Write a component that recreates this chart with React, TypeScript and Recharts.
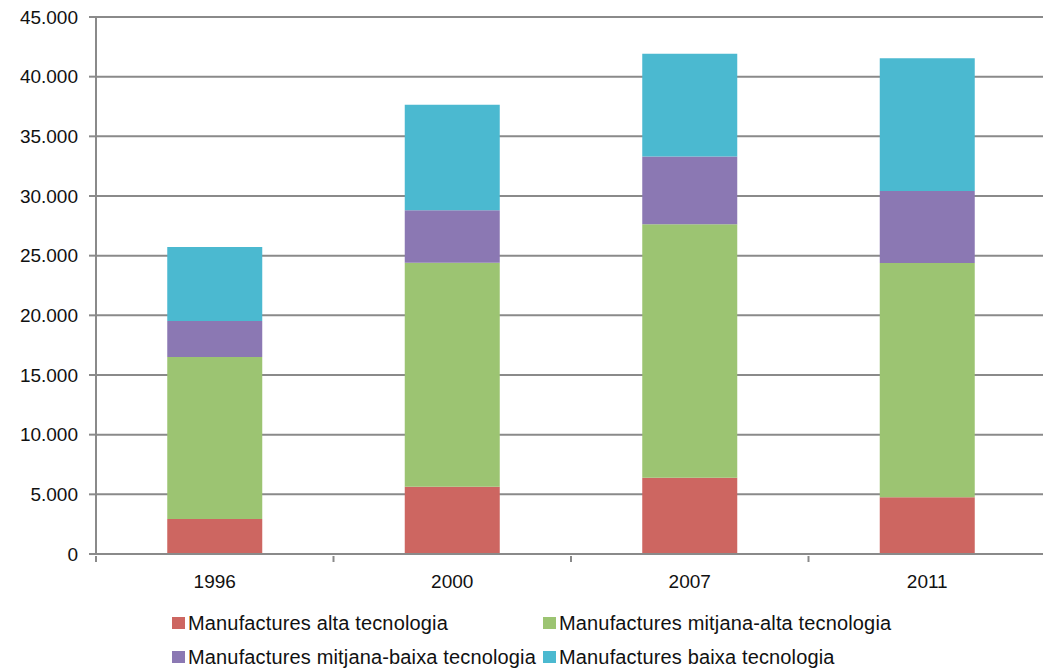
import React from "react";
import { BarChart, Bar, XAxis, YAxis, CartesianGrid, Legend } from "recharts";

const years = ["1996", "2000", "2007", "2011"];
const alta = [2930, 5640, 6390, 4750];
const mitjanaAlta = [13580, 18770, 21240, 19640];
const mitjanaBaixa = [3020, 4390, 5670, 6030];
const baixa = [6200, 8850, 8610, 11120];
const yTicks = [0, 5000, 10000, 15000, 20000, 25000, 30000, 35000, 40000, 45000];

const seriesNames = [
  "Manufactures alta tecnologia",
  "Manufactures mitjana-alta tecnologia",
  "Manufactures mitjana-baixa tecnologia",
  "Manufactures baixa tecnologia",
];
const colors = ["#CD6661", "#9CC472", "#8B78B3", "#4BB9D0"];

const data = years.map((y, i) => ({
  year: y,
  alta: alta[i],
  mitjanaAlta: mitjanaAlta[i],
  mitjanaBaixa: mitjanaBaixa[i],
  baixa: baixa[i],
}));

const FONT = "'Liberation Sans', Arial, Helvetica, sans-serif";
const GRID = "#8a8a8a";
const TEXT = "#111";
const BAND = 237.5;

const fmt = (v: number) => String(v).replace(/\B(?=(\d{3})+(?!\d))/g, ".");

// x labels plus the small boundary ticks between categories
const XTick = ({ x, y, payload, index }: any) => {
  const left = x - BAND / 2;
  return (
    <g>
      <line x1={left} x2={left} y1={y - 6} y2={y} stroke={GRID} strokeWidth={2} />
      {index === years.length - 1 && (
        <line x1={x + BAND / 2} x2={x + BAND / 2} y1={y - 6} y2={y} stroke={GRID} strokeWidth={2} />
      )}
      <text x={x} y={y + 26} textAnchor="middle" fontSize={19} fill={TEXT} fontFamily={FONT}>
        {payload.value}
      </text>
    </g>
  );
};

const LegendBox = () => {
  const pos = [
    { left: 172, top: 30 },
    { left: 543, top: 30 },
    { left: 172, top: 64 },
    { left: 543, top: 64 },
  ];
  return (
    <div style={{ position: "relative", width: 1050, height: 84, fontFamily: FONT }}>
      {seriesNames.map((n, i) => (
        <div
          key={n}
          style={{
            position: "absolute",
            left: pos[i].left,
            top: pos[i].top,
            display: "flex",
            alignItems: "center",
            height: 18,
            whiteSpace: "nowrap",
          }}
        >
          <span style={{ width: 13, height: 12, background: colors[i], display: "inline-block", marginRight: 3 }} />
          <span style={{ fontSize: 20, color: TEXT, letterSpacing: 0.15 }}>{n}</span>
        </div>
      ))}
    </div>
  );
};

export default function App() {
  return (
    <div style={{ position: "absolute", left: 0, top: 0, width: 1043, height: 668, overflow: "hidden", background: "#fff" }}>
      <BarChart
        width={1050}
        height={668}
        data={data}
        margin={{ top: 17, right: 4, bottom: 0, left: 0 }}
        barCategoryGap="30%"
      >
        <CartesianGrid vertical={false} stroke={GRID} strokeWidth={2} />
        <XAxis
          dataKey="year"
          height={30}
          tickLine={false}
          axisLine={{ stroke: GRID, strokeWidth: 2 }}
          tick={<XTick />}
          interval={0}
        />
        <YAxis
          width={96}
          domain={[0, 45000]}
          ticks={yTicks}
          tickFormatter={fmt}
          tickSize={7}
          tickMargin={11}
          axisLine={{ stroke: GRID, strokeWidth: 2 }}
          tickLine={{ stroke: GRID, strokeWidth: 2 }}
          tick={{ fontSize: 19, fill: TEXT, fontFamily: FONT }}
        />
        <Legend verticalAlign="bottom" content={<LegendBox />} wrapperStyle={{ left: 0, width: 1050 }} />
        <Bar dataKey="alta" name={seriesNames[0]} stackId="a" fill={colors[0]} isAnimationActive={false} />
        <Bar dataKey="mitjanaAlta" name={seriesNames[1]} stackId="a" fill={colors[1]} isAnimationActive={false} />
        <Bar dataKey="mitjanaBaixa" name={seriesNames[2]} stackId="a" fill={colors[2]} isAnimationActive={false} />
        <Bar dataKey="baixa" name={seriesNames[3]} stackId="a" fill={colors[3]} isAnimationActive={false} />
      </BarChart>
    </div>
  );
}
